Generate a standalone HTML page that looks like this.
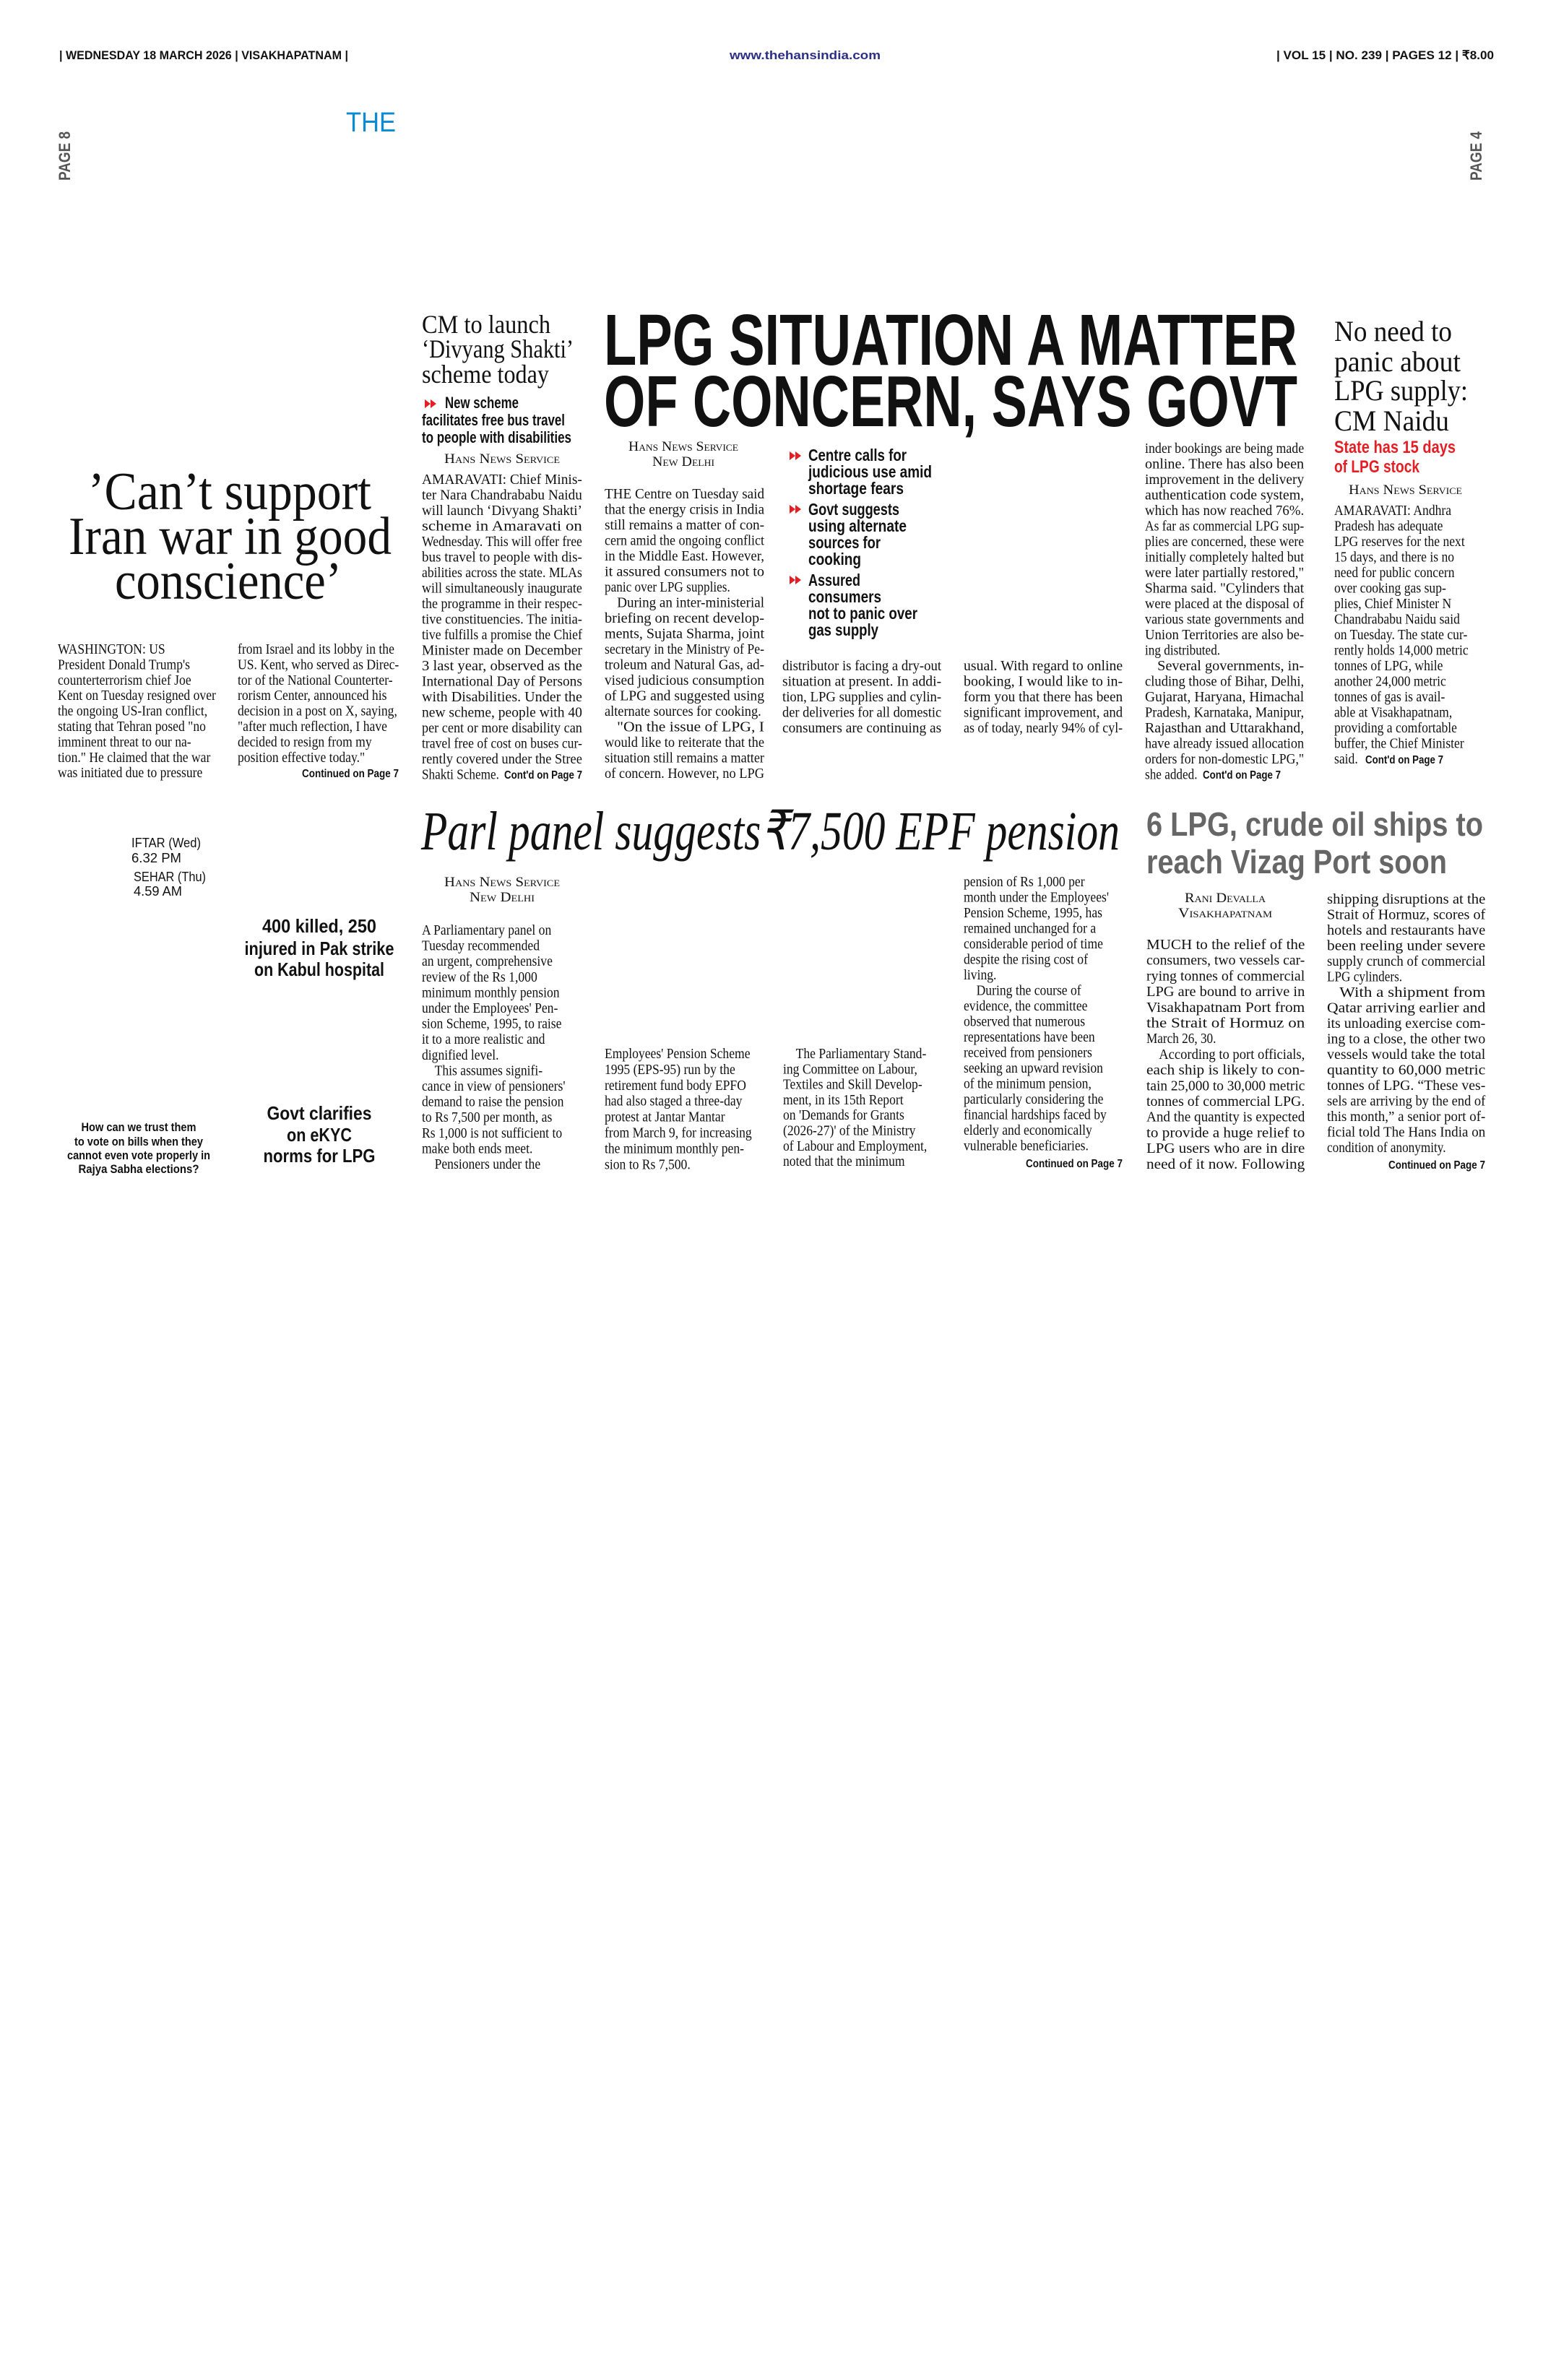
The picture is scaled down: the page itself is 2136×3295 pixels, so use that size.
<!DOCTYPE html>
<html><head><meta charset="utf-8"><style>
html,body{margin:0;padding:0;background:#fff}
svg{display:block}
.s{font-family:"Liberation Serif",serif;font-size:20px;fill:#111}
.h{font-family:"Liberation Sans",sans-serif;font-weight:bold;fill:#111}
.sc{font-family:"Liberation Serif",serif;font-variant:small-caps;font-size:19px;fill:#111}
</style></head><body>
<svg width="2136" height="3295" viewBox="0 0 2136 3295" xmlns="http://www.w3.org/2000/svg">
<rect width="2136" height="3295" fill="#fff"/>
<!-- header -->
<text class="h" x="82" y="82" font-size="17" textLength="400" lengthAdjust="spacingAndGlyphs">| WEDNESDAY 18 MARCH 2026 | VISAKHAPATNAM |</text>
<text class="h" x="1010" y="82" font-size="17" style="fill:#2b2f86" textLength="209" lengthAdjust="spacingAndGlyphs">www.thehansindia.com</text>
<text class="h" x="1767" y="82" font-size="17" textLength="301" lengthAdjust="spacingAndGlyphs">| VOL 15 | NO. 239 | PAGES 12 | ₹8.00</text>
<text x="479" y="182" font-family="Liberation Sans,sans-serif" font-size="38" fill="#0a8ad4" textLength="69" lengthAdjust="spacingAndGlyphs">THE</text>
<text class="h" transform="translate(97 250) rotate(-90)" font-size="22" style="fill:#555" textLength="68" lengthAdjust="spacingAndGlyphs">PAGE 8</text>
<text class="h" transform="translate(2051 250) rotate(-90)" font-size="22" style="fill:#555" textLength="68" lengthAdjust="spacingAndGlyphs">PAGE 4</text>

<!-- Can't support -->
<g font-family="Liberation Serif,serif" font-size="74" fill="#111">
<text x="122" y="705" textLength="392" lengthAdjust="spacingAndGlyphs">’Can’t support</text>
<text x="95" y="767" textLength="447" lengthAdjust="spacingAndGlyphs">Iran war in good</text>
<text x="159" y="829" textLength="314" lengthAdjust="spacingAndGlyphs">conscience’</text>
</g>
<g class="s" transform="translate(80 0) scale(.88 1)">
<text class="s" y="905">WASHINGTON: US</text>
<text class="s" y="926.4">President Donald Trump's</text>
<text class="s" y="947.8">counterterrorism chief Joe</text>
<text class="s" y="969.2">Kent on Tuesday resigned over</text>
<text class="s" y="990.6">the ongoing US-Iran conflict,</text>
<text class="s" y="1012">stating that Tehran posed "no</text>
<text class="s" y="1033.4">imminent threat to our na-</text>
<text class="s" y="1054.8">tion." He claimed that the war</text>
<text class="s" y="1076.2">was initiated due to pressure</text>
</g>
<g transform="translate(329 0) scale(.88 1)">
<text class="s" y="905">from Israel and its lobby in the</text>
<text class="s" y="926.4">US. Kent, who served as Direc-</text>
<text class="s" y="947.8">tor of the National Counterter-</text>
<text class="s" y="969.2">rorism Center, announced his</text>
<text class="s" y="990.6">decision in a post on X, saying,</text>
<text class="s" y="1012">"after much reflection, I have</text>
<text class="s" y="1033.4">decided to resign from my</text>
<text class="s" y="1054.8">position effective today."</text>
</g>
<text class="h" x="552" y="1076" font-size="16" text-anchor="end" textLength="134" lengthAdjust="spacingAndGlyphs">Continued on Page 7</text>

<!-- CM to launch -->
<g font-family="Liberation Serif,serif" font-size="36" fill="#111">
<text x="584" y="461" textLength="178" lengthAdjust="spacingAndGlyphs">CM to launch</text>
<text x="584" y="495" textLength="210" lengthAdjust="spacingAndGlyphs">‘Divyang Shakti’</text>
<text x="584" y="530" textLength="176" lengthAdjust="spacingAndGlyphs">scheme today</text>
</g>
<g fill="#e31e24"><polygon points="588,553 596,559 588,565"/><polygon points="596,553 604,559 596,565"/></g>
<g class="h" font-size="22">
<text x="616" y="565" textLength="102" lengthAdjust="spacingAndGlyphs">New scheme</text>
<text x="584" y="589" textLength="198" lengthAdjust="spacingAndGlyphs">facilitates free bus travel</text>
<text x="584" y="613" textLength="207" lengthAdjust="spacingAndGlyphs">to people with disabilities</text>
</g>
<text class="sc" x="695" y="641" text-anchor="middle" textLength="160" lengthAdjust="spacingAndGlyphs">Hans News Service</text>
<g transform="translate(584 0) scale(.86 1)">
<text class="s" y="670" textLength="258" lengthAdjust="spacingAndGlyphs">AMARAVATI: Chief Minis-</text>
<text class="s" y="691.5" textLength="258" lengthAdjust="spacingAndGlyphs">ter Nara Chandrababu Naidu</text>
<text class="s" y="713" textLength="258" lengthAdjust="spacingAndGlyphs">will launch ‘Divyang Shakti’</text>
<text class="s" y="734.5" textLength="258" lengthAdjust="spacingAndGlyphs">scheme in Amaravati on</text>
<text class="s" y="756" textLength="258" lengthAdjust="spacingAndGlyphs">Wednesday. This will offer free</text>
<text class="s" y="777.5" textLength="258" lengthAdjust="spacingAndGlyphs">bus travel to people with dis-</text>
<text class="s" y="799" textLength="258" lengthAdjust="spacingAndGlyphs">abilities across the state. MLAs</text>
<text class="s" y="820.5" textLength="258" lengthAdjust="spacingAndGlyphs">will simultaneously inaugurate</text>
<text class="s" y="842" textLength="258" lengthAdjust="spacingAndGlyphs">the programme in their respec-</text>
<text class="s" y="863.5" textLength="258" lengthAdjust="spacingAndGlyphs">tive constituencies. The initia-</text>
<text class="s" y="885" textLength="258" lengthAdjust="spacingAndGlyphs">tive fulfills a promise the Chief</text>
<text class="s" y="906.5" textLength="258" lengthAdjust="spacingAndGlyphs">Minister made on December</text>
<text class="s" y="928" textLength="258" lengthAdjust="spacingAndGlyphs">3 last year, observed as the</text>
<text class="s" y="949.5" textLength="258" lengthAdjust="spacingAndGlyphs">International Day of Persons</text>
<text class="s" y="971" textLength="258" lengthAdjust="spacingAndGlyphs">with Disabilities. Under the</text>
<text class="s" y="992.5" textLength="258" lengthAdjust="spacingAndGlyphs">new scheme, people with 40</text>
<text class="s" y="1014" textLength="258" lengthAdjust="spacingAndGlyphs">per cent or more disability can</text>
<text class="s" y="1035.5" textLength="258" lengthAdjust="spacingAndGlyphs">travel free of cost on buses cur-</text>
<text class="s" y="1057" textLength="258" lengthAdjust="spacingAndGlyphs">rently covered under the Stree</text>
<text class="s" y="1078.5">Shakti Scheme.</text>
</g>
<text class="h" x="806" y="1078" font-size="16" text-anchor="end" textLength="108" lengthAdjust="spacingAndGlyphs">Cont'd on Page 7</text>

<!-- Main headline -->
<g class="h" font-size="100">
<text x="836" y="505" textLength="960" lengthAdjust="spacingAndGlyphs">LPG SITUATION A MATTER</text>
<text x="836" y="590" textLength="960" lengthAdjust="spacingAndGlyphs">OF CONCERN, SAYS GOVT</text>
</g>
<text class="sc" x="946" y="624" text-anchor="middle" textLength="152" lengthAdjust="spacingAndGlyphs">Hans News Service</text>
<text class="sc" x="946" y="645" text-anchor="middle" textLength="86" lengthAdjust="spacingAndGlyphs">New Delhi</text>
<g transform="translate(837 0) scale(.86 1)">
<text class="s" y="690" textLength="257" lengthAdjust="spacingAndGlyphs">THE Centre on Tuesday said</text>
<text class="s" y="711.5" textLength="257" lengthAdjust="spacingAndGlyphs">that the energy crisis in India</text>
<text class="s" y="733" textLength="257" lengthAdjust="spacingAndGlyphs">still remains a matter of con-</text>
<text class="s" y="754.5" textLength="257" lengthAdjust="spacingAndGlyphs">cern amid the ongoing conflict</text>
<text class="s" y="776" textLength="257" lengthAdjust="spacingAndGlyphs">in the Middle East. However,</text>
<text class="s" y="797.5" textLength="257" lengthAdjust="spacingAndGlyphs">it assured consumers not to</text>
<text class="s" y="819">panic over LPG supplies.</text>
<text class="s" x="20" y="840.5" textLength="237" lengthAdjust="spacingAndGlyphs">During an inter-ministerial</text>
<text class="s" y="862" textLength="257" lengthAdjust="spacingAndGlyphs">briefing on recent develop-</text>
<text class="s" y="883.5" textLength="257" lengthAdjust="spacingAndGlyphs">ments, Sujata Sharma, joint</text>
<text class="s" y="905" textLength="257" lengthAdjust="spacingAndGlyphs">secretary in the Ministry of Pe-</text>
<text class="s" y="926.5" textLength="257" lengthAdjust="spacingAndGlyphs">troleum and Natural Gas, ad-</text>
<text class="s" y="948" textLength="257" lengthAdjust="spacingAndGlyphs">vised judicious consumption</text>
<text class="s" y="969.5" textLength="257" lengthAdjust="spacingAndGlyphs">of LPG and suggested using</text>
<text class="s" y="991" textLength="252" lengthAdjust="spacingAndGlyphs">alternate sources for cooking.</text>
<text class="s" x="20" y="1012.5" textLength="237" lengthAdjust="spacingAndGlyphs">"On the issue of LPG, I</text>
<text class="s" y="1034" textLength="257" lengthAdjust="spacingAndGlyphs">would like to reiterate that the</text>
<text class="s" y="1055.5" textLength="257" lengthAdjust="spacingAndGlyphs">situation still remains a matter</text>
<text class="s" y="1077" textLength="257" lengthAdjust="spacingAndGlyphs">of concern. However, no LPG</text>
</g>
<!-- bullets -->
<g fill="#e31e24">
<polygon points="1093,625 1101,631 1093,637"/><polygon points="1101,625 1109,631 1101,637"/>
<polygon points="1093,699 1101,705 1093,711"/><polygon points="1101,699 1109,705 1101,711"/>
<polygon points="1093,797 1101,803 1093,809"/><polygon points="1101,797 1109,803 1101,809"/>
</g>
<g class="h" font-size="23">
<text x="1119" y="638" textLength="136" lengthAdjust="spacingAndGlyphs">Centre calls for</text>
<text x="1119" y="661" textLength="171" lengthAdjust="spacingAndGlyphs">judicious use amid</text>
<text x="1119" y="684" textLength="132" lengthAdjust="spacingAndGlyphs">shortage fears</text>
<text x="1119" y="713" textLength="126" lengthAdjust="spacingAndGlyphs">Govt suggests</text>
<text x="1119" y="736" textLength="136" lengthAdjust="spacingAndGlyphs">using alternate</text>
<text x="1119" y="759" textLength="100" lengthAdjust="spacingAndGlyphs">sources for</text>
<text x="1119" y="782" textLength="73" lengthAdjust="spacingAndGlyphs">cooking</text>
<text x="1119" y="811" textLength="72" lengthAdjust="spacingAndGlyphs">Assured</text>
<text x="1119" y="834" textLength="101" lengthAdjust="spacingAndGlyphs">consumers</text>
<text x="1119" y="857" textLength="151" lengthAdjust="spacingAndGlyphs">not to panic over</text>
<text x="1119" y="880" textLength="97" lengthAdjust="spacingAndGlyphs">gas supply</text>
</g>
<g transform="translate(1083 0) scale(.86 1)">
<text class="s" y="928" textLength="256" lengthAdjust="spacingAndGlyphs">distributor is facing a dry-out</text>
<text class="s" y="949.5" textLength="256" lengthAdjust="spacingAndGlyphs">situation at present. In addi-</text>
<text class="s" y="971" textLength="256" lengthAdjust="spacingAndGlyphs">tion, LPG supplies and cylin-</text>
<text class="s" y="992.5" textLength="256" lengthAdjust="spacingAndGlyphs">der deliveries for all domestic</text>
<text class="s" y="1014" textLength="256" lengthAdjust="spacingAndGlyphs">consumers are continuing as</text>
</g>
<g transform="translate(1334 0) scale(.86 1)">
<text class="s" y="928" textLength="256" lengthAdjust="spacingAndGlyphs">usual. With regard to online</text>
<text class="s" y="949.5" textLength="256" lengthAdjust="spacingAndGlyphs">booking, I would like to in-</text>
<text class="s" y="971" textLength="256" lengthAdjust="spacingAndGlyphs">form you that there has been</text>
<text class="s" y="992.5" textLength="256" lengthAdjust="spacingAndGlyphs">significant improvement, and</text>
<text class="s" y="1014" textLength="256" lengthAdjust="spacingAndGlyphs">as of today, nearly 94% of cyl-</text>
</g>
<g transform="translate(1585 0) scale(.86 1)">
<text class="s" y="627" textLength="256" lengthAdjust="spacingAndGlyphs">inder bookings are being made</text>
<text class="s" y="648.5" textLength="256" lengthAdjust="spacingAndGlyphs">online. There has also been</text>
<text class="s" y="670" textLength="256" lengthAdjust="spacingAndGlyphs">improvement in the delivery</text>
<text class="s" y="691.5" textLength="256" lengthAdjust="spacingAndGlyphs">authentication code system,</text>
<text class="s" y="713" textLength="256" lengthAdjust="spacingAndGlyphs">which has now reached 76%.</text>
<text class="s" y="734.5" textLength="256" lengthAdjust="spacingAndGlyphs">As far as commercial LPG sup-</text>
<text class="s" y="756" textLength="256" lengthAdjust="spacingAndGlyphs">plies are concerned, these were</text>
<text class="s" y="777.5" textLength="256" lengthAdjust="spacingAndGlyphs">initially completely halted but</text>
<text class="s" y="799" textLength="256" lengthAdjust="spacingAndGlyphs">were later partially restored,"</text>
<text class="s" y="820.5" textLength="256" lengthAdjust="spacingAndGlyphs">Sharma said. "Cylinders that</text>
<text class="s" y="842" textLength="256" lengthAdjust="spacingAndGlyphs">were placed at the disposal of</text>
<text class="s" y="863.5" textLength="256" lengthAdjust="spacingAndGlyphs">various state governments and</text>
<text class="s" y="885" textLength="256" lengthAdjust="spacingAndGlyphs">Union Territories are also be-</text>
<text class="s" y="906.5">ing distributed.</text>
<text class="s" x="20" y="928" textLength="236" lengthAdjust="spacingAndGlyphs">Several governments, in-</text>
<text class="s" y="949.5" textLength="256" lengthAdjust="spacingAndGlyphs">cluding those of Bihar, Delhi,</text>
<text class="s" y="971" textLength="256" lengthAdjust="spacingAndGlyphs">Gujarat, Haryana, Himachal</text>
<text class="s" y="992.5" textLength="256" lengthAdjust="spacingAndGlyphs">Pradesh, Karnataka, Manipur,</text>
<text class="s" y="1014" textLength="256" lengthAdjust="spacingAndGlyphs">Rajasthan and Uttarakhand,</text>
<text class="s" y="1035.5" textLength="256" lengthAdjust="spacingAndGlyphs">have already issued allocation</text>
<text class="s" y="1057" textLength="256" lengthAdjust="spacingAndGlyphs">orders for non-domestic LPG,"</text>
<text class="s" y="1078.5">she added.</text>
</g>
<text class="h" x="1665" y="1078" font-size="16" textLength="108" lengthAdjust="spacingAndGlyphs">Cont'd on Page 7</text>

<!-- right: No need to panic -->
<g font-family="Liberation Serif,serif" font-size="40" fill="#111">
<text x="1847" y="472" textLength="163" lengthAdjust="spacingAndGlyphs">No need to</text>
<text x="1847" y="514" textLength="175" lengthAdjust="spacingAndGlyphs">panic about</text>
<text x="1847" y="554" textLength="185" lengthAdjust="spacingAndGlyphs">LPG supply:</text>
<text x="1847" y="596" textLength="159" lengthAdjust="spacingAndGlyphs">CM Naidu</text>
</g>
<g font-family="Liberation Sans,sans-serif" font-weight="bold" font-size="24" fill="#e31e24">
<text x="1847" y="627" textLength="168" lengthAdjust="spacingAndGlyphs">State has 15 days</text>
<text x="1847" y="654" textLength="118" lengthAdjust="spacingAndGlyphs">of LPG stock</text>
</g>
<text class="sc" x="1867" y="684" textLength="157" lengthAdjust="spacingAndGlyphs">Hans News Service</text>
<g transform="translate(1847 0) scale(.88 1)">
<text class="s" y="713">AMARAVATI: Andhra</text>
<text class="s" y="734.5">Pradesh has adequate</text>
<text class="s" y="756">LPG reserves for the next</text>
<text class="s" y="777.5">15 days, and there is no</text>
<text class="s" y="799">need for public concern</text>
<text class="s" y="820.5">over cooking gas sup-</text>
<text class="s" y="842">plies, Chief Minister N</text>
<text class="s" y="863.5">Chandrababu Naidu said</text>
<text class="s" y="885">on Tuesday. The state cur-</text>
<text class="s" y="906.5">rently holds 14,000 metric</text>
<text class="s" y="928">tonnes of LPG, while</text>
<text class="s" y="949.5">another 24,000 metric</text>
<text class="s" y="971">tonnes of gas is avail-</text>
<text class="s" y="992.5">able at Visakhapatnam,</text>
<text class="s" y="1014">providing a comfortable</text>
<text class="s" y="1035.5">buffer, the Chief Minister</text>
<text class="s" y="1057">said.</text>
</g>
<text class="h" x="1890" y="1057" font-size="16" textLength="108" lengthAdjust="spacingAndGlyphs">Cont'd on Page 7</text>

<!-- bottom left -->
<g font-family="Liberation Sans,sans-serif" font-size="18" fill="#111">
<text x="182" y="1173" textLength="96" lengthAdjust="spacingAndGlyphs">IFTAR (Wed)</text>
<text x="182" y="1194" textLength="69" lengthAdjust="spacingAndGlyphs">6.32 PM</text>
<text x="185" y="1220" textLength="100" lengthAdjust="spacingAndGlyphs">SEHAR (Thu)</text>
<text x="185" y="1240" textLength="67" lengthAdjust="spacingAndGlyphs">4.59 AM</text>
</g>
<g class="h" font-size="26" text-anchor="middle">
<text x="442" y="1291" textLength="158" lengthAdjust="spacingAndGlyphs">400 killed, 250</text>
<text x="442" y="1322" textLength="207" lengthAdjust="spacingAndGlyphs">injured in Pak strike</text>
<text x="442" y="1351" textLength="180" lengthAdjust="spacingAndGlyphs">on Kabul hospital</text>
<text x="442" y="1550" textLength="145" lengthAdjust="spacingAndGlyphs">Govt clarifies</text>
<text x="442" y="1580" textLength="90" lengthAdjust="spacingAndGlyphs">on eKYC</text>
<text x="442" y="1609" textLength="155" lengthAdjust="spacingAndGlyphs">norms for LPG</text>
</g>
<g class="h" font-size="17" text-anchor="middle">
<text x="192" y="1566" textLength="159" lengthAdjust="spacingAndGlyphs">How can we trust them</text>
<text x="192" y="1586" textLength="178" lengthAdjust="spacingAndGlyphs">to vote on bills when they</text>
<text x="192" y="1605" textLength="198" lengthAdjust="spacingAndGlyphs">cannot even vote properly in</text>
<text x="192" y="1624" textLength="167" lengthAdjust="spacingAndGlyphs">Rajya Sabha elections?</text>
</g>

<!-- Parl panel -->
<text x="583" y="1176" font-family="Liberation Serif,serif" font-style="italic" font-size="76" fill="#111" textLength="967" lengthAdjust="spacingAndGlyphs">Parl panel suggests₹7,500 EPF pension</text>
<text class="sc" x="695" y="1227" text-anchor="middle" textLength="160" lengthAdjust="spacingAndGlyphs">Hans News Service</text>
<text class="sc" x="695" y="1248" text-anchor="middle" textLength="90" lengthAdjust="spacingAndGlyphs">New Delhi</text>
<g transform="translate(584 0) scale(.88 1)">
<text class="s" y="1294">A Parliamentary panel on</text>
<text class="s" y="1315.6">Tuesday recommended</text>
<text class="s" y="1337.2">an urgent, comprehensive</text>
<text class="s" y="1358.8">review of the Rs 1,000</text>
<text class="s" y="1380.4">minimum monthly pension</text>
<text class="s" y="1402">under the Employees' Pen-</text>
<text class="s" y="1423.6">sion Scheme, 1995, to raise</text>
<text class="s" y="1445.2">it to a more realistic and</text>
<text class="s" y="1466.8">dignified level.</text>
<text class="s" x="20" y="1488.4">This assumes signifi-</text>
<text class="s" y="1510">cance in view of pensioners'</text>
<text class="s" y="1531.6">demand to raise the pension</text>
<text class="s" y="1553.2">to Rs 7,500 per month, as</text>
<text class="s" y="1574.8">Rs 1,000 is not sufficient to</text>
<text class="s" y="1596.4">make both ends meet.</text>
<text class="s" x="20" y="1618">Pensioners under the</text>
</g>
<g transform="translate(837 0) scale(.88 1)">
<text class="s" y="1465">Employees' Pension Scheme</text>
<text class="s" y="1486.9">1995 (EPS-95) run by the</text>
<text class="s" y="1508.8">retirement fund body EPFO</text>
<text class="s" y="1530.7">had also staged a three-day</text>
<text class="s" y="1552.6">protest at Jantar Mantar</text>
<text class="s" y="1574.5">from March 9, for increasing</text>
<text class="s" y="1596.4">the minimum monthly pen-</text>
<text class="s" y="1618.3">sion to Rs 7,500.</text>
</g>
<g transform="translate(1084 0) scale(.88 1)">
<text class="s" x="20" y="1465">The Parliamentary Stand-</text>
<text class="s" y="1486.3">ing Committee on Labour,</text>
<text class="s" y="1507.6">Textiles and Skill Develop-</text>
<text class="s" y="1528.9">ment, in its 15th Report</text>
<text class="s" y="1550.2">on 'Demands for Grants</text>
<text class="s" y="1571.5">(2026-27)' of the Ministry</text>
<text class="s" y="1592.8">of Labour and Employment,</text>
<text class="s" y="1614.1">noted that the minimum</text>
</g>
<g transform="translate(1334 0) scale(.88 1)">
<text class="s" y="1227">pension of Rs 1,000 per</text>
<text class="s" y="1248.5">month under the Employees'</text>
<text class="s" y="1270">Pension Scheme, 1995, has</text>
<text class="s" y="1291.5">remained unchanged for a</text>
<text class="s" y="1313">considerable period of time</text>
<text class="s" y="1334.5">despite the rising cost of</text>
<text class="s" y="1356">living.</text>
<text class="s" x="20" y="1377.5">During the course of</text>
<text class="s" y="1399">evidence, the committee</text>
<text class="s" y="1420.5">observed that numerous</text>
<text class="s" y="1442">representations have been</text>
<text class="s" y="1463.5">received from pensioners</text>
<text class="s" y="1485">seeking an upward revision</text>
<text class="s" y="1506.5">of the minimum pension,</text>
<text class="s" y="1528">particularly considering the</text>
<text class="s" y="1549.5">financial hardships faced by</text>
<text class="s" y="1571">elderly and economically</text>
<text class="s" y="1592.5">vulnerable beneficiaries.</text>
</g>
<text class="h" x="1554" y="1616" font-size="16" text-anchor="end" textLength="134" lengthAdjust="spacingAndGlyphs">Continued on Page 7</text>

<!-- 6 LPG -->
<g font-family="Liberation Sans,sans-serif" font-weight="bold" font-size="46" fill="#666">
<text x="1587" y="1157" textLength="466" lengthAdjust="spacingAndGlyphs">6 LPG, crude oil ships to</text>
<text x="1587" y="1209" textLength="416" lengthAdjust="spacingAndGlyphs">reach Vizag Port soon</text>
</g>
<text class="sc" x="1696" y="1249" text-anchor="middle" textLength="112" lengthAdjust="spacingAndGlyphs">Rani Devalla</text>
<text class="sc" x="1696" y="1270" text-anchor="middle" textLength="130" lengthAdjust="spacingAndGlyphs">Visakhapatnam</text>
<g transform="translate(1587 0) scale(.86 1)">
<text class="s" y="1314" textLength="255" lengthAdjust="spacingAndGlyphs">MUCH to the relief of the</text>
<text class="s" y="1335.7" textLength="255" lengthAdjust="spacingAndGlyphs">consumers, two vessels car-</text>
<text class="s" y="1357.4" textLength="255" lengthAdjust="spacingAndGlyphs">rying tonnes of commercial</text>
<text class="s" y="1379.1" textLength="255" lengthAdjust="spacingAndGlyphs">LPG are bound to arrive in</text>
<text class="s" y="1400.8" textLength="255" lengthAdjust="spacingAndGlyphs">Visakhapatnam Port from</text>
<text class="s" y="1422.5" textLength="255" lengthAdjust="spacingAndGlyphs">the Strait of Hormuz on</text>
<text class="s" y="1444.2">March 26, 30.</text>
<text class="s" x="20" y="1465.9" textLength="235" lengthAdjust="spacingAndGlyphs">According to port officials,</text>
<text class="s" y="1487.6" textLength="255" lengthAdjust="spacingAndGlyphs">each ship is likely to con-</text>
<text class="s" y="1509.3" textLength="255" lengthAdjust="spacingAndGlyphs">tain 25,000 to 30,000 metric</text>
<text class="s" y="1531" textLength="255" lengthAdjust="spacingAndGlyphs">tonnes of commercial LPG.</text>
<text class="s" y="1552.7" textLength="255" lengthAdjust="spacingAndGlyphs">And the quantity is expected</text>
<text class="s" y="1574.4" textLength="255" lengthAdjust="spacingAndGlyphs">to provide a huge relief to</text>
<text class="s" y="1596.1" textLength="255" lengthAdjust="spacingAndGlyphs">LPG users who are in dire</text>
<text class="s" y="1617.8" textLength="255" lengthAdjust="spacingAndGlyphs">need of it now. Following</text>
</g>
<g transform="translate(1837 0) scale(.86 1)">
<text class="s" y="1251" textLength="255" lengthAdjust="spacingAndGlyphs">shipping disruptions at the</text>
<text class="s" y="1272.5" textLength="255" lengthAdjust="spacingAndGlyphs">Strait of Hormuz, scores of</text>
<text class="s" y="1294" textLength="255" lengthAdjust="spacingAndGlyphs">hotels and restaurants have</text>
<text class="s" y="1315.5" textLength="255" lengthAdjust="spacingAndGlyphs">been reeling under severe</text>
<text class="s" y="1337" textLength="255" lengthAdjust="spacingAndGlyphs">supply crunch of commercial</text>
<text class="s" y="1358.5">LPG cylinders.</text>
<text class="s" x="20" y="1380" textLength="235" lengthAdjust="spacingAndGlyphs">With a shipment from</text>
<text class="s" y="1401.5" textLength="255" lengthAdjust="spacingAndGlyphs">Qatar arriving earlier and</text>
<text class="s" y="1423" textLength="255" lengthAdjust="spacingAndGlyphs">its unloading exercise com-</text>
<text class="s" y="1444.5" textLength="255" lengthAdjust="spacingAndGlyphs">ing to a close, the other two</text>
<text class="s" y="1466" textLength="255" lengthAdjust="spacingAndGlyphs">vessels would take the total</text>
<text class="s" y="1487.5" textLength="255" lengthAdjust="spacingAndGlyphs">quantity to 60,000 metric</text>
<text class="s" y="1509" textLength="255" lengthAdjust="spacingAndGlyphs">tonnes of LPG. “These ves-</text>
<text class="s" y="1530.5" textLength="255" lengthAdjust="spacingAndGlyphs">sels are arriving by the end of</text>
<text class="s" y="1552" textLength="255" lengthAdjust="spacingAndGlyphs">this month,” a senior port of-</text>
<text class="s" y="1573.5" textLength="255" lengthAdjust="spacingAndGlyphs">ficial told The Hans India on</text>
<text class="s" y="1595">condition of anonymity.</text>
</g>
<text class="h" x="2056" y="1618" font-size="16" text-anchor="end" textLength="134" lengthAdjust="spacingAndGlyphs">Continued on Page 7</text>
</svg>
</body></html>
